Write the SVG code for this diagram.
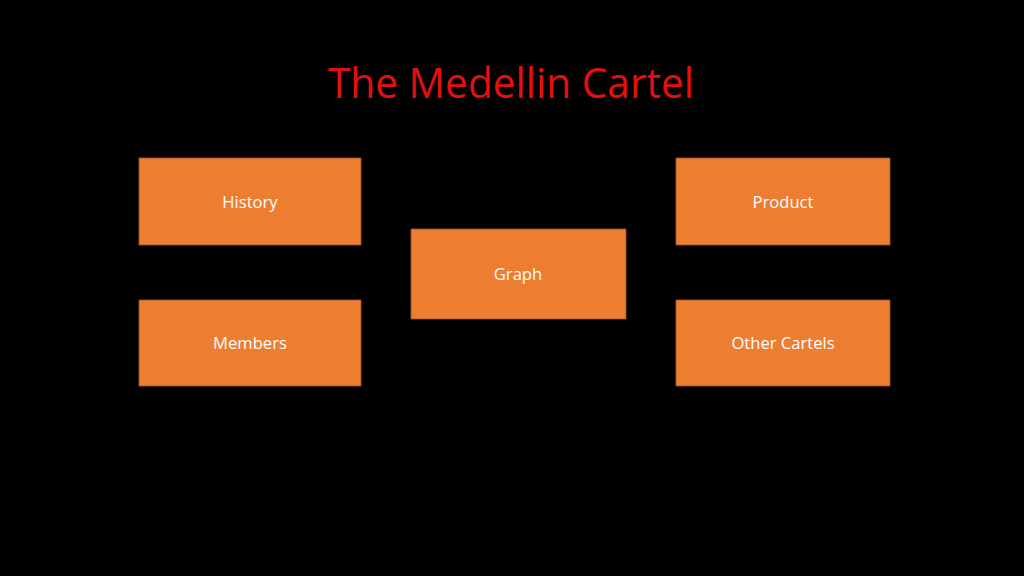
<svg xmlns="http://www.w3.org/2000/svg" width="1024" height="576" viewBox="0 0 1024 576">
<style>
.box{fill:#ed7d31;stroke:#a0522d;stroke-width:0.8}
.lbl{font-family:"Open Sans","Noto Sans","Liberation Sans",sans-serif;font-size:16.6px;fill:#ffffff;text-anchor:middle}
.title{font-family:"Open Sans","Noto Sans","Liberation Sans",sans-serif;font-size:42px;fill:#e3100f;text-anchor:middle}
</style>
<rect width="1024" height="576" fill="#000000"/>
<text class="title" x="511" y="98" textLength="366" lengthAdjust="spacingAndGlyphs">The Medellin Cartel</text>
<g id="connectors"></g>
<g id="history"><rect class="box" x="139" y="158" width="222" height="87"/><text class="lbl" x="250" y="208">History</text></g>
<g id="product"><rect class="box" x="676" y="158" width="214" height="87"/><text class="lbl" x="783" y="208">Product</text></g>
<g id="graph"><rect class="box" x="411" y="229" width="215" height="90"/><text class="lbl" x="518" y="280">Graph</text></g>
<g id="members"><rect class="box" x="139" y="300" width="222" height="86"/><text class="lbl" x="250" y="349">Members</text></g>
<g id="other-cartels"><rect class="box" x="676" y="300" width="214" height="86"/><text class="lbl" x="783" y="349">Other Cartels</text></g>
</svg>
